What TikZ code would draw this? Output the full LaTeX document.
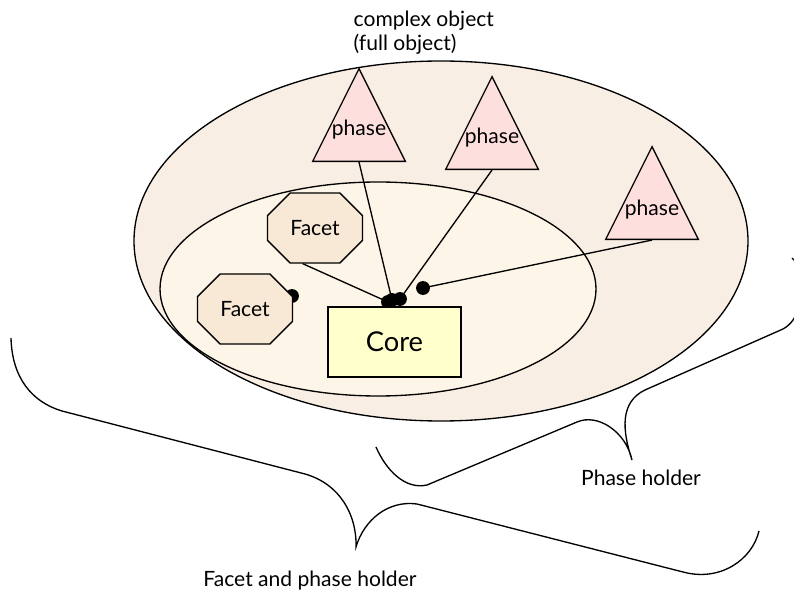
\documentclass[tikz,border=0pt]{standalone}
\usepackage{fontspec}
\setmainfont{Lato}
\usetikzlibrary{shapes.geometric,shapes.misc,calc}
\definecolor{outerfill}{HTML}{F9EEE4}
\definecolor{innerfill}{HTML}{FDF5E7}
\definecolor{facetfill}{HTML}{F8E8D6}
\definecolor{phasefill}{HTML}{FDE0DD}
\definecolor{corefill}{HTML}{FFFFCC}
\tikzset{
  ring/.style={ellipse, draw, inner sep=0pt},
  phasetri/.style={isosceles triangle, isosceles triangle stretches, shape border rotate=90,
    draw, fill=phasefill, minimum width=69.5pt, minimum height=69.5pt, inner sep=0pt,
    anchor=apex},
  phasetext/.style={font=\fontsize{15.8}{18}\selectfont, inner sep=0pt},
  facetbox/.style={chamfered rectangle, chamfered rectangle xsep=11.25pt, chamfered rectangle ysep=11.25pt,
    draw, fill=facetfill, minimum width=71.25pt, minimum height=52.5pt, inner sep=0pt,
    font=\fontsize{15.8}{18}\selectfont},
  corebox/.style={rectangle, draw, fill=corefill, minimum width=99.75pt, minimum height=52.5pt,
    font=\fontsize{20.5}{22}\selectfont},
  link/.style={draw, line width=1pt},
  dot/.style={fill=black},
  brace/.style={draw, line width=1pt},
  lbl/.style={font=\fontsize{15.8}{18}\selectfont, inner sep=0pt}
}
\begin{document}
\begin{tikzpicture}[x=0.75pt, y=-0.75pt, line width=1pt]
\clip (0,0) rectangle (794,599);
\fill[white] (0,0) rectangle (794,599);
% containers
\node[ring, fill=outerfill, minimum width=460.5pt, minimum height=270pt] (outer) at (441,241) {};
\node[ring, fill=innerfill, minimum width=327pt, minimum height=160.5pt] (inner) at (378,289) {};
% dot end points
\coordinate (d1) at (392,300);
\coordinate (d2) at (400,299);
\coordinate (d3) at (423,288);
\coordinate (d4) at (388,302);
\coordinate (d5) at (292,296);
\foreach \d in {d1,d2,d3,d4,d5} \fill[dot] (\d) circle[radius=5.2pt];
% nodes
\node[phasetri] (T1) at (359,67) {};
\node[phasetri] (T2) at (492,75) {};
\node[phasetri] (T3) at (652,145) {};
\node[phasetext] (T1t) at ($(T1.apex)+(0,63)$) {phase};
\node[phasetext] (T2t) at ($(T2.apex)+(0,63)$) {phase};
\node[phasetext] (T3t) at ($(T3.apex)+(0,65)$) {phase};
\node[facetbox] (F1) at (315,228) {Facet};
\node[facetbox] (F2) at (245,309) {Facet};
% links
\draw[link] (T1.lower side) -- (d1);
\draw[link] (T2.lower side) -- (d2);
\draw[link] (T3.lower side) -- (d3);
\draw[link] (F1.251) -- (d4);
\node[corebox] (core) at (394.5,342) {Core};
% labels
\node[lbl, anchor=north west, align=left, font=\fontsize{15.8}{18.5}\selectfont] (title) at (353,10) {complex object\\(full object)};
\node[lbl] (ph) at (641,478) {Phase holder};
\node[lbl] (fph) at (310,581) {Facet and phase holder};
% braces
\draw[brace] (11,338) .. controls (12,378) and (32,402) .. (62,411) -- (305,474)
  .. controls (340,484) and (357,515) .. (356,547)
  .. controls (364,520) and (388,500) .. (417,504) -- (683,572)
  .. controls (720,582) and (752,560) .. (759,531);
\draw[brace] (376,447) .. controls (386,470) and (405,490) .. (427,485) -- (577,422)
  .. controls (598,413) and (626,432) .. (632,460)
  .. controls (622,430) and (620,402) .. (645,390) -- (783,329)
  .. controls (800,320) and (803,295) .. (801,280)
  .. controls (800,268) and (797,262) .. (792,258);
\end{tikzpicture}
\end{document}
